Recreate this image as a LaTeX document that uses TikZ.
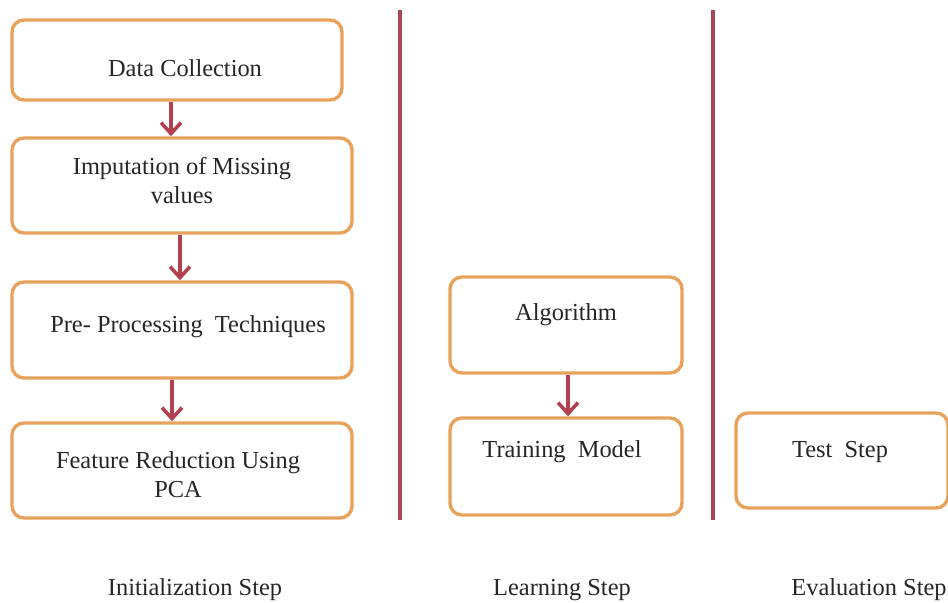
\documentclass[tikz,border=0pt]{standalone}
\usepackage{fontspec}
\setmainfont{Liberation Serif}
\usetikzlibrary{arrows.meta}
\definecolor{boxorange}{RGB}{232,162,92}
\definecolor{arrowred}{RGB}{178,64,78}
\definecolor{sepred}{RGB}{168,70,84}
\begin{document}
\begin{tikzpicture}[x=0.5pt,y=-0.5pt,
  box/.style={draw=boxorange, line width=1.7pt, rounded corners=6pt, fill=white, inner sep=0pt},
  txt/.style={font=\fontsize{12.2}{14.5}\selectfont, align=center, inner sep=0pt, text=black!85},
  flow/.style={draw=arrowred, line width=1.8pt, -{Straight Barb[length=5.5pt,width=10pt,line width=1.8pt]}},
  sepline/.style={draw=sepred, line width=1.6pt}]
\useasboundingbox (0,0) rectangle (948,603);
\fill[white] (0,0) rectangle (948,603);

% boxes
\node[box, minimum width=165pt, minimum height=40pt] (dc) at (177,60) {};
\node[box, minimum width=170pt, minimum height=47.5pt] (imp) at (182,185.5) {};
\node[box, minimum width=170pt, minimum height=48pt] (pre) at (182,330) {};
\node[box, minimum width=170pt, minimum height=47.5pt] (fea) at (182,470.5) {};
\node[box, minimum width=116pt, minimum height=48pt] (alg) at (566,325) {};
\node[box, minimum width=116pt, minimum height=48.5pt] (trm) at (566,466.5) {};
\node[box, minimum width=106pt, minimum height=47.5pt] (tst) at (842,460.5) {};

% texts
\node[txt] (tdc) at (185,68) {Data Collection};
\node[txt] (timp) at (182,181) {Imputation of Missing\\values};
\node[txt] (tpre) at (188,327) {Pre- Processing \ Techniques};
\node[txt] (tfea) at (178,475) {Feature Reduction Using\\PCA};
\node[txt] (talg) at (566,315) {Algorithm};
\node[txt] (ttrm) at (562,452) {Training \ Model};
\node[txt] (ttst) at (840,452) {Test \ Step};

% arrows
\draw[flow] (dc.south -| 171,0) -- (imp.north -| 171,0);
\draw[flow] (imp.south -| 180,0) -- (pre.north -| 180,0);
\draw[flow] (pre.south -| 172,0) -- (fea.north -| 172,0);
\draw[flow] (alg.south -| 568,0) -- (trm.north -| 568,0);

% separators
\coordinate (s1t) at (400,10);
\coordinate (s1b) at (400,520);
\coordinate (s2t) at (713,10);
\coordinate (s2b) at (713,520);
\draw[sepline] (s1t) -- (s1b);
\draw[sepline] (s2t) -- (s2b);

% step labels
\node[txt] (l1) at (195,590) {Initialization Step};
\node[txt] (l2) at (562,590) {Learning Step};
\node[txt] (l3) at (869,590) {Evaluation Step};
\end{tikzpicture}
\end{document}
